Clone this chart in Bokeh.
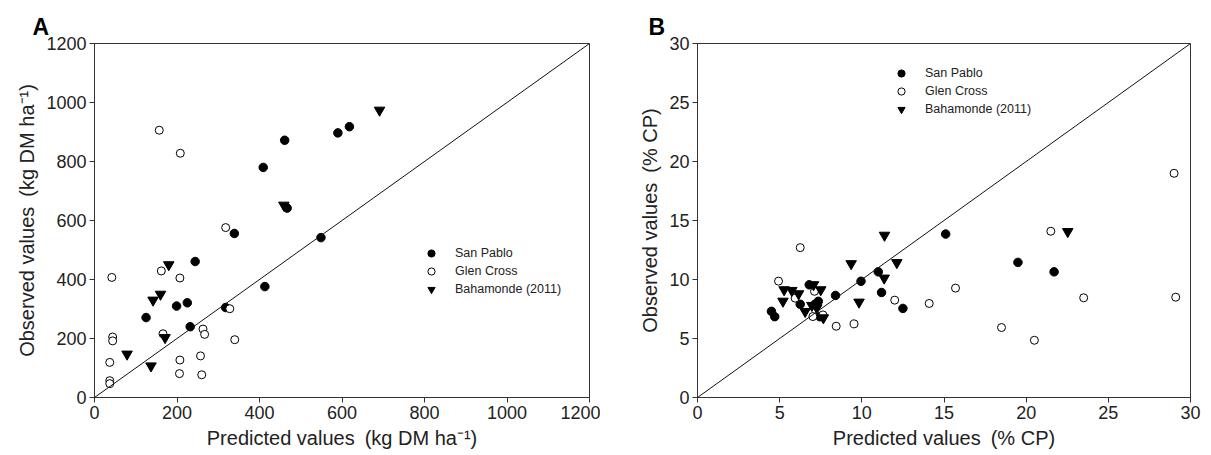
from bokeh.plotting import figure
from bokeh.layouts import row
from bokeh.models import FixedTicker, Slope, Legend, LegendItem, Range1d
from bokeh.embed import file_html
from bokeh.resources import INLINE

# ---- Panel A data (kg DM ha-1) ----
sp_pred_A = [461, 409, 467, 339, 590, 618, 549, 244, 199, 225, 125, 318, 232, 413]
sp_obs_A = [872, 780, 642, 556, 897, 918, 542, 461, 310, 321, 271, 305, 240, 376]
gc_pred_A = [157, 208, 318, 162, 42, 207, 328, 166, 263, 267, 340, 44, 44, 37, 207, 257, 206, 260, 37, 37]
gc_obs_A = [906, 828, 576, 429, 407, 405, 301, 216, 232, 214, 196, 205, 192, 119, 127, 141, 81, 77, 57, 47]
ba_pred_A = [691, 459, 180, 160, 142, 171, 79, 137]
ba_obs_A = [974, 652, 450, 350, 330, 203, 147, 107]
ticks_A = [0, 200, 400, 600, 800, 1000, 1200]

# ---- Panel B data (% CP) ----
sp_pred_B = [4.5, 4.7, 6.25, 6.8, 7.15, 7.35, 7.45, 8.4, 9.95, 11.0, 11.2, 12.5, 15.1, 19.5, 21.7]
sp_obs_B = [7.3, 6.85, 7.9, 9.55, 7.9, 8.15, 6.85, 8.65, 9.85, 10.65, 8.9, 7.55, 13.85, 11.45, 10.65]
gc_pred_B = [6.25, 4.93, 7.12, 5.94, 7.02, 7.63, 8.44, 9.53, 12.0, 14.1, 15.7, 21.5, 23.5, 18.5, 20.5, 29.0, 29.1]
gc_obs_B = [12.7, 9.86, 9.0, 8.42, 6.86, 7.0, 6.04, 6.24, 8.25, 7.97, 9.27, 14.09, 8.45, 5.93, 4.85, 19.0, 8.5]
ba_pred_B = [9.35, 7.06, 5.27, 5.74, 6.15, 7.5, 5.2, 9.83, 6.96, 7.26, 6.55, 7.66, 11.38, 12.13, 11.36, 22.53]
ba_obs_B = [11.34, 9.56, 9.13, 9.07, 8.79, 9.13, 8.16, 8.08, 7.8, 7.6, 7.29, 6.75, 13.75, 11.43, 10.12, 14.06]
ticks_B = [0, 5, 10, 15, 20, 25, 30]

series_names = ["San Pablo", "Glen Cross", "Bahamonde (2011)"]

FONT = "Liberation Sans"
AX = "#333333"
SP = "\u2002"


def make_fig(width, left, right, ticks, xlabel, ylabel, panel, title_offset, data, legend_loc):
    p = figure(width=width, height=455, x_range=Range1d(ticks[0], ticks[-1]),
               y_range=Range1d(ticks[0], ticks[-1]), output_backend="svg",
               toolbar_location=None, min_border_left=left, min_border_right=right,
               min_border_top=43, min_border_bottom=58)
    p.background_fill_color = "white"
    p.border_fill_color = "white"
    p.outline_line_color = AX
    p.outline_line_width = 1
    p.grid.visible = False
    for ax in (p.xaxis[0], p.yaxis[0]):
        ax.ticker = FixedTicker(ticks=ticks)
        ax.minor_tick_line_color = None
        ax.major_tick_in = 0
        ax.major_tick_out = 5
        ax.major_label_standoff = 3
        ax.axis_line_color = AX
        ax.major_tick_line_color = AX
        ax.major_label_text_font = FONT
        ax.major_label_text_font_size = "18px"
        ax.major_label_text_color = "#222222"
        ax.axis_label_text_font = FONT
        ax.axis_label_text_font_size = "20px"
        ax.axis_label_text_font_style = "normal"
        ax.axis_label_text_color = "#222222"
        ax.axis_label_standoff = 5
    p.xaxis.axis_label = xlabel
    p.yaxis.axis_label = ylabel

    p.title.text = panel
    p.title.text_font = FONT
    p.title.text_font_size = "23px"
    p.title.text_font_style = "bold"
    p.title.text_color = "black"
    p.title.align = "left"
    p.title.offset = title_offset
    p.title.standoff = 8

    p.add_layout(Slope(gradient=1, y_intercept=0, line_color="#111111", line_width=1))

    (sx, sy), (gx, gy), (bx, by) = data
    r1 = p.scatter(sx, sy, marker="circle", size=8.5, fill_color="black", line_color="black")
    r2 = p.scatter(gx, gy, marker="circle", size=8, fill_color="white", line_color="black", line_width=1)
    r3 = p.scatter(bx, by, marker="inverted_triangle", size=10.5, fill_color="black", line_color="black")

    legend = Legend(items=[LegendItem(label=series_names[0], renderers=[r1]),
                           LegendItem(label=series_names[1], renderers=[r2]),
                           LegendItem(label=series_names[2], renderers=[r3])],
                    location=legend_loc, padding=0, margin=0, spacing=0,
                    glyph_width=18, glyph_height=18, label_height=18, label_standoff=15,
                    label_text_font=FONT, label_text_font_size="12.5px",
                    label_text_color="#222222",
                    border_line_color=None, background_fill_alpha=0)
    p.add_layout(legend, "center")
    return p


pA = make_fig(600, 94, 11, ticks_A, f"Predicted values{SP}(kg DM ha⁻¹)",
              f"Observed values{SP}(kg DM ha⁻¹)", "A", -62,
              ((sp_pred_A, sp_obs_A), (gc_pred_A, gc_obs_A), (ba_pred_A, ba_obs_A)),
              (328, 99))
pB = make_fig(611, 97, 21, ticks_B, f"Predicted values{SP}(% CP)",
              f"Observed values{SP}(% CP)", "B", -49,
              ((sp_pred_B, sp_obs_B), (gc_pred_B, gc_obs_B), (ba_pred_B, ba_obs_B)),
              (195, 279))

layout = row(pA, pB)
open("out.html", "w").write(file_html(layout, INLINE))
